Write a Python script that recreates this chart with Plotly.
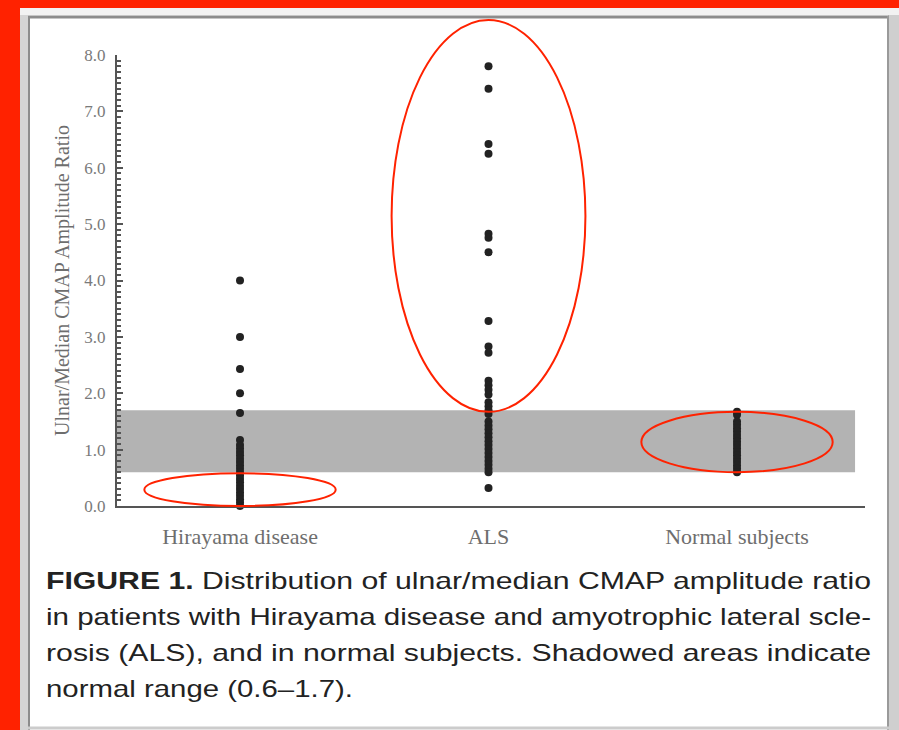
import plotly.graph_objects as go

# ---- data ----
categories = ["Hirayama disease", "ALS", "Normal subjects"]
hirayama = [4.0, 3.0, 2.43, 2.0, 1.65, 1.17, 1.08, 1.02, 0.96, 0.9, 0.84, 0.78, 0.72,
            0.66, 0.6, 0.54, 0.48, 0.42, 0.36, 0.3, 0.24, 0.18, 0.12, 0.06, 0.0]
als = [7.8, 7.4, 6.42, 6.25, 4.83, 4.76, 4.5, 3.28, 2.83, 2.72, 2.22, 2.14, 2.06, 1.98,
       1.84, 1.77, 1.7, 1.63, 1.5, 1.43, 1.36, 1.29, 1.22, 1.15, 1.08, 1.01, 0.94,
       0.87, 0.8, 0.73, 0.66, 0.6, 0.32]
normal = [1.67, 1.62, 1.5, 1.44, 1.38, 1.32, 1.26, 1.2, 1.14, 1.08, 1.02, 0.96, 0.9,
          0.84, 0.78, 0.72, 0.66, 0.6]
normal_range = (0.6, 1.7)
y_ticks = [0, 1, 2, 3, 4, 5, 6, 7, 8]
caption_lines = [
    "<b>FIGURE 1.</b> Distribution of ulnar/median CMAP amplitude ratio",
    "in patients with Hirayama disease and amyotrophic lateral scle-",
    "rosis (ALS), and in normal subjects. Shadowed areas indicate",
    "normal range (0.6–1.7).",
]
# rendered width of each caption line (justified block, last line ragged)
caption_widths = [825, 825, 825, 307]

W, H = 899, 730
L, R, T, B = 117, 865, 55, 506          # plot area in pixels
X_RANGE = [-0.495, 2.515]
Y_RANGE = [0, 8]


def px(xp):
    return (xp - L) / (R - L)


def py(yp):
    return (B - yp) / (B - T)


def dx(v):
    return (v - X_RANGE[0]) / (X_RANGE[1] - X_RANGE[0])


def dy(v):
    return (v - Y_RANGE[0]) / (Y_RANGE[1] - Y_RANGE[0])


fig = go.Figure()
for i, vals in enumerate([hirayama, als, normal]):
    fig.add_trace(go.Scatter(
        x=[i] * len(vals), y=vals, mode="markers",
        marker=dict(size=8, color="#222222"),
        cliponaxis=False, showlegend=False, hoverinfo="y",
    ))

shapes = []
# red backdrop is paper_bgcolor; white framed panel
shapes.append(dict(type="rect", xref="paper", yref="paper", layer="below",
                   x0=px(20), x1=px(899), y0=py(8), y1=py(731),
                   fillcolor="white", line=dict(width=0)))
shapes.append(dict(type="rect", xref="paper", yref="paper", layer="below",
                   x0=px(20), x1=px(28), y0=py(8), y1=py(731),
                   fillcolor="#d4d4d4", line=dict(width=0)))
shapes.append(dict(type="rect", xref="paper", yref="paper", layer="below",
                   x0=px(888), x1=px(899), y0=py(8), y1=py(731),
                   fillcolor="#cfcfcf", line=dict(width=0)))
shapes.append(dict(type="rect", xref="paper", yref="paper", layer="below",
                   x0=px(20), x1=px(899), y0=py(8), y1=py(15),
                   fillcolor="#f2f2f2", line=dict(width=0)))
shapes.append(dict(type="line", xref="paper", yref="paper", layer="below",
                   x0=px(28), x1=px(889), y0=py(17), y1=py(17),
                   line=dict(color="#8c8c8c", width=3)))
shapes.append(dict(type="line", xref="paper", yref="paper", layer="below",
                   x0=px(29), x1=px(29), y0=py(16), y1=py(731),
                   line=dict(color="#8c8c8c", width=2)))
shapes.append(dict(type="line", xref="paper", yref="paper", layer="below",
                   x0=px(888), x1=px(888), y0=py(16), y1=py(731),
                   line=dict(color="#9a9a9a", width=2)))
shapes.append(dict(type="line", xref="paper", yref="paper", layer="below",
                   x0=px(28), x1=px(889), y0=py(728), y1=py(728),
                   line=dict(color="#cccccc", width=3)))
# normal range band
shapes.append(dict(type="rect", xref="x", yref="y", layer="below",
                   x0=X_RANGE[0], x1=2.475, y0=normal_range[0], y1=normal_range[1],
                   fillcolor="#b3b3b3", line=dict(width=0)))
# red highlight ellipses (x centre, half width, y bottom, y top in data units)
ellipses = [(0.0, 0.385, 0.0, 0.58), (1.0, 0.39, 1.67, 8.62), (2.0, 0.385, 0.6, 1.67)]
for cx, hw, y0, y1 in ellipses:
    shapes.append(dict(type="circle", xref="paper", yref="paper", layer="above",
                       x0=dx(cx - hw), x1=dx(cx + hw), y0=dy(y0), y1=dy(y1),
                       line=dict(color="#ff2200", width=2)))

annotations = []
for k, line in enumerate(caption_lines):
    annotations.append(dict(
        xref="paper", yref="paper", x=px(44), y=py(580 + 36 * k),
        xanchor="left", yanchor="middle", showarrow=False, text=line,
        font=dict(family="Liberation Sans, Arial, sans-serif", size=24, color="#222222"),
    ))

serif = "Liberation Serif, Times New Roman, serif"
fig.update_layout(
    width=W, height=H,
    margin=dict(l=L, r=W - R, t=T, b=H - B, pad=0),
    paper_bgcolor="#ff2200", plot_bgcolor="rgba(0,0,0,0)",
    shapes=shapes, annotations=annotations,
    xaxis=dict(
        range=X_RANGE, tickvals=[0, 1, 2], ticktext=categories,
        showgrid=False, zeroline=False, showline=True, linecolor="#555555", linewidth=2,
        ticks="", ticklabelstandoff=10,
        tickfont=dict(family=serif, size=22, color="#6e6e6e"),
    ),
    yaxis=dict(
        range=Y_RANGE, tickvals=y_ticks, ticktext=[f"{v:.1f}" for v in y_ticks],
        showgrid=False, zeroline=False, showline=True, linecolor="#555555", linewidth=2,
        ticks="inside", ticklen=6, tickwidth=2, tickcolor="#555555",
        minor=dict(dtick=0.1, ticks="inside", ticklen=4, tickwidth=1.5, tickcolor="#555555"),
        ticklabelstandoff=6,
        tickfont=dict(family=serif, size=17, color="#7a7a7a"),
        title=dict(text="Ulnar/Median CMAP Amplitude Ratio", standoff=9,
                   font=dict(family=serif, size=20, color="#6e6e6e")),
    ),
)

# Justify the caption block: stretch each line to its set width, keeping the left edge.
justify_js = """
var widths = %s;
var gd = document.getElementById('{plot_id}');
gd.querySelectorAll('g.annotation').forEach(function (g) {
  var i = +g.getAttribute('data-index');
  if (!(i < widths.length)) return;
  var t = g.querySelector('text.annotation-text');
  if (!t) return;
  var b0 = t.getBBox();
  t.setAttribute('textLength', widths[i]);
  t.setAttribute('lengthAdjust', 'spacingAndGlyphs');
  var b1 = t.getBBox();
  var x = parseFloat(t.getAttribute('x') || '0');
  t.setAttribute('x', x + (b0.x - b1.x));
});
""" % caption_widths

fig.write_html("out.html", post_script=justify_js)
